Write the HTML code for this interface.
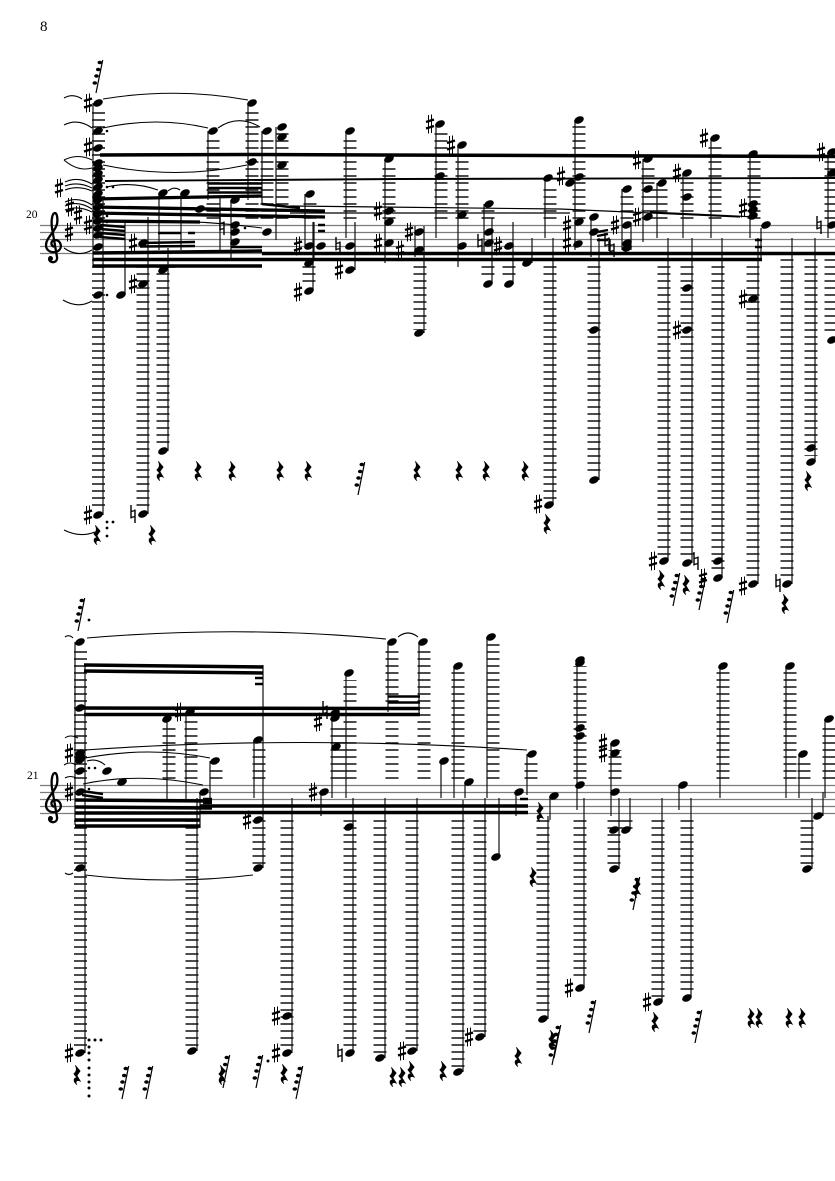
<!DOCTYPE html>
<html><head><meta charset="utf-8"><style>
html,body{margin:0;padding:0;background:#fff}
svg{display:block}
.s{stroke:#7c7c7c;stroke-width:1.300;fill:none}
.L{stroke:#111;stroke-width:1.200;fill:none}
.d{fill:none;stroke-dasharray:1.400 5.600;stroke:#111}
.b{stroke:#000;fill:none}
text{font-family:"Liberation Serif",serif;fill:#000}
</style></head><body>
<svg width="835" height="1181" viewBox="0 0 835 1181" xmlns="http://www.w3.org/2000/svg">
<defs>
<ellipse id="n" rx="5.100" ry="3.400" transform="rotate(-25)" fill="#000"/>
<path id="h" d="M-2-9V4.500M2-4.500V9M-2-2.500L2-3.500M-2 3.500L2 2.500" stroke="#000" stroke-width="1.400" fill="none"/>
<g id="p"><path d="M-1.500-9V9.500M1.500-9.500V9" stroke="#000" stroke-width="1"/><path d="M-4-2L4-4.500M-4 4.500L4 2" stroke="#000" stroke-width="2.400"/></g>
<path id="r" transform="scale(1.150)" d="M-1.500-8.500L2.800-3.500 0 .5 3 5.500C0 4-2 5.500 0 8.500-3.500 6-3.500 2 0 2.500L-2.800-1C-.5-3 0-5-1.500-8.500Z" fill="#000" stroke="#000" stroke-width=".5"/>
<g id="g"><path d="M0 0L6.700-33" stroke="#000" stroke-width="1.200"/><ellipse cx="3.800" cy="-30.500" rx="2.300" ry="1.800"/><ellipse cx="2.200" cy="-23.500" rx="2.300" ry="1.800"/><ellipse cx=".5" cy="-17" rx="2.300" ry="1.800"/><ellipse cx="-1.200" cy="-10" rx="2.300" ry="1.800"/></g>
</defs>

<text x="40" y="31" font-size="15">8</text>
<text x="26" y="218" font-size="11.500">20</text>
<text x="27" y="779" font-size="11.500">21</text>

<path class="s" d="M40 225.500H835M40 232.500H835M40 239.500H835M40 246.500H835M40 253.500H835M40 785.500H835M40 792.500H835M40 799.500H835M40 806.500H835M40 813.500H835"/>

<path d="M54 247C50 245 51 240 55 240 61 240 63 248 58 251 52 254 46 251 46 245 46 238 55 232 57 224 58 219 57 213 55 213 52 213 51 221 52 228L57 257C58 263 50 264 49 259" fill="none" stroke="#000" stroke-width="2.300"/><circle cx="50.500" cy="258.500" r="2.500"/>
<path d="M54 807C50 805 51 800 55 800 61 800 63 808 58 811 52 814 46 811 46 805 46 798 55 792 57 784 58 779 57 773 55 773 52 773 51 781 52 788L57 817C58 823 50 824 49 819" fill="none" stroke="#000" stroke-width="2.300"/><circle cx="50.500" cy="818.500" r="2.500"/>

<!-- ledger lines system 1 -->
<g class="d">
<path stroke-width="13" d="M98.500 218.700V108M98.500 259.300V510M143 259.300V510M163 259.300V447M169 259.300V270M213 218.700V138M252 218.700V108M267 218.700V138M282 218.700V132M309 259.300V287M310 218.700V200M350 218.700V136M389 218.700V165M420 259.300V330M441 218.700V130M462 218.700V150M488 259.300V280M509 259.300V280M488 218.700V208M550 218.700V184M550 259.300V500M579 218.700V126M594 259.300V476M627 218.700V195M648 218.700V165M661 218.700V189M687 218.700V178M715 218.700V144M754 218.700V160M664 259.300V556M687 259.300V558M718 259.300V574M753 259.300V580M787 259.300V580M811 259.300V456M831 218.700V160M831 259.300V336"/>
<!-- system 2 -->
<path stroke-width="13" d="M80.500 778.700V648M80.500 820.300V1048M169 778.700V725M191 778.700V718M216 778.700V767M259 778.700V746M259 820.300V865M192 820.300V1046M287 820.300V1048M337 778.700V724M350 778.700V680M350 820.300V1048M392 778.700V648M424 778.700V648M380 820.300V1053M412 820.300V1046M458 778.700V672M458 820.300V1067M480 820.300V1032M493 778.700V643M531 778.700V760M543 820.300V1014M580 778.700V666M580 820.300V980M615 778.700V750M614 820.300V865M626 820.300V830M658 820.300V998M687 820.300V994M723 778.700V672M790 778.700V672M804 778.700V760M829 778.700V725M807 820.300V865"/>
</g>

<!-- stems system 1 -->
<path class="L" d="M93 103V267M103 200V515M125 223V295M148 217V514M159 193V250M168 248V451M181 193V250M208 131V200M220 195V250M231 200V258M248 103V200M262 131V205M276 127V240M305 194V246M313 222V291M314 222V258M346 131V238M355 222V270M385 159V263M415 226V257M424 226V333M436 124V238M458 145V267M484 204V255M492 218V284M513 222V284M532 238V263M545 178V238M553 238V505M575 120V250M591 217V257M599 238V480M622 189V250M631 225V250M643 159V242M657 183V238M668 238V561M683 173V238M692 238V563M711 138V238M722 238V578M750 154V238M758 238V584M761 228V258M792 238V584M815 238V462M828 152V238"/>
<!-- stems system 2 -->
<path class="L" d="M75 642V825M85 666V1053M197 798V1051M263 665V868M167 719V800M186 712V800M210 761V803M254 740V798M200 792V828M292 798V1053M321 792V816M332 716V798M346 673V798M353 798V1053M385 798V1058M388 642V712M417 798V1051M419 642V715M441 761V798M454 666V798M463 800V1072M465 782V798M485 798V1037M487 637V798M499 798V857M516 792V816M527 754V795M548 816V1019M550 796V820M577 660V810M584 798V988M611 743V816M619 798V869M630 798V830M662 798V1002M679 785V810M691 798V998M720 666V798M786 666V798M799 754V798M812 798V869M823 792V816M825 719V798"/>

<!-- beams -->
<g class="b">
<path stroke-width="3.500" d="M100 155L250 154.500 835 156.500"/>
<path stroke-width="1.900" d="M105 181L400 179 835 178"/>
<path stroke-width="1.200" d="M290 206L560 209 740 217M290 213H570M650 212L756 217"/>
<path stroke-width="3.300" d="M93 199L262 196M93 207L325 211M93 213L325 217M93 221L200 222"/>
<path stroke-width="2.500" d="M208 183.500H262M208 188H262M208 192.500H262"/>
<path stroke-width="2.400" d="M262 204L300 208M100 225L125 227M100 229L125 231M100 233L125 235M100 237L125 239M158 233H181M188 233H195M140 243L195 242M140 246.500L195 246M231 247H262M318 225H325M318 231H325M755 240H762M755 247H762M597 232L608 230M597 236L608 234M597 240H608"/>
<path stroke-width="3.500" d="M93 253L262 251M93 259.500H262M93 266H262M262 253.500H835M262 259.500H762"/>
<!-- system 2 -->
<path stroke-width="3.500" d="M84 665L263 667M84 671L263 673M80 708L420 708.500M84 714.500L420 714.500"/>
<path stroke-width="2.600" d="M255 678H263M255 684H263M388 696.500H420M388 702.500H420M520 799H528"/>
<path stroke-width="3.500" d="M75 800L212 801M75 807L212 808M75 813H200M75 820H200M75 826H200M200 806L528 806M200 812.500L528 812.500"/>
<path stroke-width="2.400" d="M82 791L103 794M82 795L103 798M203 799H212M203 803H212"/>
</g>

<!-- ties -->
<g fill="none" stroke="#000" stroke-width="1.100">
<path d="M64 98Q73 93 82 99M64 125Q78 118 92 128M64 160Q78 153 92 160M64 160Q78 172 92 168M65 182Q78 176 92 184M65 186Q78 181 92 188M65 190Q78 185 92 191M65 202Q78 196 92 205M65 206Q78 200 92 209M65 210Q78 205 92 212M64 248Q78 258 92 250M63 300Q78 309 92 301M64 530Q80 538 95 532"/>
<path d="M103 99Q176 87 248 100M103 128Q156 116 208 128M218 128Q238 114 260 127M103 165Q176 180 247 165M107 187Q132 181 158 190M168 191Q174 186 180 190M105 222Q185 218 262 228"/>
<path d="M65 637Q69 634 73 638M65 873Q69 876 73 873M65 738Q70 734 78 738M64 765Q70 761 76 765M65 778Q70 775 76 778M87 638Q240 625 386 639M398 637Q408 629 418 637M85 750Q300 735 527 750M85 758Q150 746 210 758M87 761Q97 758 105 765M83 784Q140 772 203 785M85 875Q170 885 253 875"/>
</g>

<!-- noteheads -->
<g>
<use href="#n" x="98" y="103"/><use href="#n" x="98" y="131"/><use href="#n" x="98" y="148"/><use href="#n" x="98" y="163"/><use href="#n" x="98" y="168"/><use href="#n" x="98" y="174"/><use href="#n" x="98" y="180"/><use href="#n" x="98" y="187"/><use href="#n" x="98" y="194"/><use href="#n" x="98" y="200"/><use href="#n" x="98" y="207"/><use href="#n" x="98" y="214"/><use href="#n" x="98" y="221"/><use href="#n" x="98" y="228"/><use href="#n" x="98" y="235"/><use href="#n" x="98" y="247"/><use href="#n" x="98" y="295"/><use href="#n" x="98" y="515"/>
<use href="#n" x="143" y="514"/><use href="#n" x="163" y="193"/><use href="#n" x="185" y="193"/><use href="#n" x="213" y="131"/><use href="#n" x="252" y="103"/><use href="#n" x="252" y="162"/><use href="#n" x="267" y="131"/><use href="#n" x="282" y="127"/><use href="#n" x="282" y="137"/><use href="#n" x="282" y="165"/><use href="#n" x="235" y="200"/><use href="#n" x="200" y="209"/><use href="#n" x="267" y="232"/><use href="#n" x="235" y="225"/><use href="#n" x="235" y="232"/><use href="#n" x="235" y="242"/><use href="#n" x="143" y="243"/><use href="#n" x="163" y="270"/><use href="#n" x="143" y="284"/><use href="#n" x="121" y="295"/><use href="#n" x="163" y="451"/>
<use href="#n" x="310" y="194"/><use href="#n" x="309" y="246"/><use href="#n" x="321" y="246"/><use href="#n" x="309" y="263"/><use href="#n" x="309" y="291"/><use href="#n" x="350" y="131"/><use href="#n" x="350" y="246"/><use href="#n" x="350" y="270"/><use href="#n" x="389" y="159"/><use href="#n" x="389" y="211"/><use href="#n" x="389" y="222"/><use href="#n" x="389" y="243"/><use href="#n" x="419" y="232"/><use href="#n" x="419" y="250"/><use href="#n" x="419" y="333"/><use href="#n" x="440" y="124"/><use href="#n" x="440" y="176"/><use href="#n" x="462" y="145"/><use href="#n" x="462" y="215"/><use href="#n" x="462" y="246"/><use href="#n" x="489" y="204"/><use href="#n" x="489" y="232"/><use href="#n" x="489" y="243"/><use href="#n" x="488" y="284"/><use href="#n" x="509" y="246"/><use href="#n" x="509" y="284"/><use href="#n" x="527" y="263"/><use href="#n" x="548" y="178"/><use href="#n" x="549" y="505"/>
<use href="#n" x="579" y="120"/><use href="#n" x="579" y="177"/><use href="#n" x="570" y="183"/><use href="#n" x="579" y="222"/><use href="#n" x="578" y="244"/><use href="#n" x="594" y="217"/><use href="#n" x="594" y="232"/><use href="#n" x="594" y="330"/><use href="#n" x="594" y="480"/><use href="#n" x="627" y="189"/><use href="#n" x="627" y="225"/><use href="#n" x="627" y="243"/><use href="#n" x="627" y="248"/><use href="#n" x="648" y="159"/><use href="#n" x="648" y="189"/><use href="#n" x="648" y="217"/><use href="#n" x="662" y="183"/><use href="#n" x="687" y="173"/><use href="#n" x="687" y="197"/><use href="#n" x="687" y="288"/><use href="#n" x="687" y="330"/><use href="#n" x="715" y="138"/><use href="#n" x="753" y="154"/><use href="#n" x="753" y="204"/><use href="#n" x="753" y="210"/><use href="#n" x="753" y="216"/><use href="#n" x="766" y="225"/><use href="#n" x="753" y="299"/><use href="#n" x="832" y="152"/><use href="#n" x="832" y="173"/><use href="#n" x="832" y="225"/><use href="#n" x="832" y="340"/><use href="#n" x="811" y="448"/><use href="#n" x="811" y="462"/>
<use href="#n" x="664" y="561"/><use href="#n" x="687" y="563"/><use href="#n" x="718" y="561"/><use href="#n" x="718" y="578"/><use href="#n" x="753" y="584"/><use href="#n" x="787" y="584"/>
<!-- system 2 -->
<use href="#n" x="80" y="642"/><use href="#n" x="80" y="708"/><use href="#n" x="80" y="753"/><use href="#n" x="80" y="757"/><use href="#n" x="80" y="760"/><use href="#n" x="80" y="771"/><use href="#n" x="80" y="792"/><use href="#n" x="80" y="868"/><use href="#n" x="107" y="771"/><use href="#n" x="122" y="782"/><use href="#n" x="167" y="719"/><use href="#n" x="190" y="712"/><use href="#n" x="215" y="761"/><use href="#n" x="204" y="792"/><use href="#n" x="258" y="740"/><use href="#n" x="258" y="820"/><use href="#n" x="258" y="868"/>
<use href="#n" x="324" y="792"/><use href="#n" x="336" y="747"/><use href="#n" x="335" y="713"/><use href="#n" x="335" y="718"/><use href="#n" x="349" y="673"/><use href="#n" x="349" y="827"/><use href="#n" x="392" y="642"/><use href="#n" x="423" y="642"/><use href="#n" x="444" y="761"/><use href="#n" x="458" y="666"/><use href="#n" x="469" y="782"/><use href="#n" x="491" y="637"/><use href="#n" x="532" y="754"/><use href="#n" x="519" y="792"/><use href="#n" x="496" y="857"/><use href="#n" x="554" y="796"/>
<use href="#n" x="580" y="660"/><use href="#n" x="580" y="663"/><use href="#n" x="580" y="728"/><use href="#n" x="580" y="736"/><use href="#n" x="580" y="785"/><use href="#n" x="615" y="743"/><use href="#n" x="615" y="753"/><use href="#n" x="615" y="792"/><use href="#n" x="614" y="830"/><use href="#n" x="626" y="830"/><use href="#n" x="614" y="869"/><use href="#n" x="683" y="785"/><use href="#n" x="723" y="666"/><use href="#n" x="790" y="666"/><use href="#n" x="803" y="754"/><use href="#n" x="829" y="719"/><use href="#n" x="818" y="816"/><use href="#n" x="807" y="869"/>
<use href="#n" x="80" y="1053"/><use href="#n" x="192" y="1051"/><use href="#n" x="287" y="1016"/><use href="#n" x="287" y="1053"/><use href="#n" x="350" y="1053"/><use href="#n" x="380" y="1058"/><use href="#n" x="412" y="1051"/><use href="#n" x="458" y="1072"/><use href="#n" x="480" y="1037"/><use href="#n" x="543" y="1019"/><use href="#n" x="580" y="988"/><use href="#n" x="658" y="1002"/><use href="#n" x="687" y="998"/>
</g>

<!-- sharps -->
<g>
<use href="#p" x="88" y="103"/><use href="#p" x="88" y="147"/><use href="#p" x="59" y="188"/><use href="#p" x="70" y="207"/><use href="#p" x="78" y="215"/><use href="#p" x="88" y="225"/><use href="#p" x="69" y="232"/><use href="#p" x="133" y="243"/><use href="#p" x="133" y="284"/><use href="#p" x="88" y="515"/>
<use href="#p" x="298" y="246"/><use href="#p" x="298" y="292"/><use href="#p" x="339" y="270"/><use href="#p" x="378" y="211"/><use href="#p" x="378" y="243"/><use href="#p" x="400" y="250"/><use href="#p" x="409" y="232"/><use href="#p" x="430" y="124"/><use href="#p" x="451" y="145"/><use href="#p" x="498" y="246"/><use href="#p" x="561" y="176"/><use href="#p" x="567" y="225"/><use href="#p" x="567" y="243"/><use href="#p" x="615" y="225"/><use href="#p" x="637" y="160"/><use href="#p" x="637" y="217"/><use href="#p" x="677" y="173"/><use href="#p" x="704" y="138"/><use href="#p" x="677" y="330"/><use href="#p" x="743" y="299"/><use href="#p" x="743" y="208"/><use href="#p" x="821" y="152"/><use href="#p" x="538" y="504"/>
<use href="#p" x="653" y="561"/><use href="#p" x="703" y="578"/><use href="#p" x="743" y="586"/>
<use href="#p" x="69" y="792"/><use href="#p" x="69" y="753"/><use href="#p" x="179" y="712"/><use href="#p" x="247" y="820"/><use href="#p" x="313" y="792"/><use href="#p" x="318" y="722"/><use href="#p" x="603" y="743"/><use href="#p" x="603" y="753"/>
<use href="#p" x="69" y="1053"/><use href="#p" x="276" y="1016"/><use href="#p" x="276" y="1053"/><use href="#p" x="402" y="1051"/><use href="#p" x="469" y="1037"/><use href="#p" x="569" y="988"/><use href="#p" x="647" y="1002"/>
</g>

<!-- naturals -->
<g>
<use href="#h" x="222" y="226"/><use href="#h" x="338" y="246"/><use href="#h" x="480" y="243"/><use href="#h" x="607" y="242"/><use href="#h" x="612" y="248"/><use href="#h" x="819" y="225"/><use href="#h" x="133" y="514"/><use href="#h" x="696" y="561"/><use href="#h" x="778" y="583"/><use href="#h" x="325" y="710"/><use href="#h" x="340" y="1053"/>
</g>

<!-- rests -->
<g>
<use href="#r" x="160" y="471"/><use href="#r" x="198" y="471"/><use href="#r" x="232" y="471"/><use href="#r" x="280" y="471"/><use href="#r" x="308" y="471"/><use href="#r" x="417" y="471"/><use href="#r" x="459" y="471"/><use href="#r" x="486" y="471"/><use href="#r" x="525" y="471"/><use href="#r" x="808" y="481"/><use href="#r" x="97" y="535"/><use href="#r" x="152" y="535"/><use href="#r" x="547" y="524"/><use href="#r" x="661" y="580"/><use href="#r" x="686" y="585"/><use href="#r" x="785" y="604"/>
<use href="#r" x="540" y="812"/><use href="#r" x="533" y="877"/><use href="#r" x="77" y="1075"/><use href="#r" x="222" y="1075"/><use href="#r" x="284" y="1074"/><use href="#r" x="393" y="1077"/><use href="#r" x="402" y="1077"/><use href="#r" x="411" y="1071"/><use href="#r" x="443" y="1071"/><use href="#r" x="518" y="1057"/><use href="#r" x="552" y="1040"/><use href="#r" x="655" y="1022"/><use href="#r" x="751" y="1018"/><use href="#r" x="759" y="1018"/><use href="#r" x="789" y="1018"/><use href="#r" x="802" y="1018"/><use href="#r" x="637" y="888"/>
</g>

<!-- slashed grace groups -->
<g>
<use href="#g" x="96" y="93"/><use href="#g" x="358" y="495"/><use href="#g" x="673" y="606"/><use href="#g" x="699" y="610"/><use href="#g" x="727" y="623"/>
<use href="#g" x="78" y="631"/><use href="#g" x="122" y="1099"/><use href="#g" x="146" y="1099"/><use href="#g" x="223" y="1088"/><use href="#g" x="256" y="1088"/><use href="#g" x="296" y="1099"/><use href="#g" x="589" y="1033"/><use href="#g" x="552" y="1065"/><use href="#g" x="554" y="1058"/><use href="#g" x="695" y="1043"/><use href="#g" x="633" y="910"/>
</g>

<!-- dots -->
<g>
<circle cx="107" cy="131" r="1.300"/><circle cx="107" cy="187" r="1.300"/><circle cx="113" cy="187" r="1.300"/><circle cx="107" cy="216" r="1.300"/><circle cx="107" cy="222" r="1.300"/><circle cx="107" cy="295" r="1.300"/><circle cx="245" cy="228" r="1.300"/>
<circle cx="107" cy="522" r="1.400"/><circle cx="113" cy="522" r="1.400"/><circle cx="107" cy="528" r="1.400"/><circle cx="107" cy="536" r="1.400"/>
<circle cx="89" cy="620" r="1.400"/><circle cx="89" cy="768" r="1.300"/><circle cx="95" cy="768" r="1.300"/>
<circle cx="89" cy="789" r="1.300"/>
<circle cx="89" cy="1040" r="1.500"/><circle cx="95" cy="1040" r="1.500"/><circle cx="101" cy="1040" r="1.500"/><circle cx="89" cy="1047" r="1.500"/><circle cx="89" cy="1053" r="1.500"/><circle cx="89" cy="1060" r="1.500"/><circle cx="89" cy="1068" r="1.500"/><circle cx="89" cy="1075" r="1.500"/><circle cx="89" cy="1082" r="1.500"/><circle cx="89" cy="1088" r="1.500"/><circle cx="89" cy="1096" r="1.500"/><circle cx="268" cy="1061" r="1.500"/>
</g>
</svg>
</body></html>
